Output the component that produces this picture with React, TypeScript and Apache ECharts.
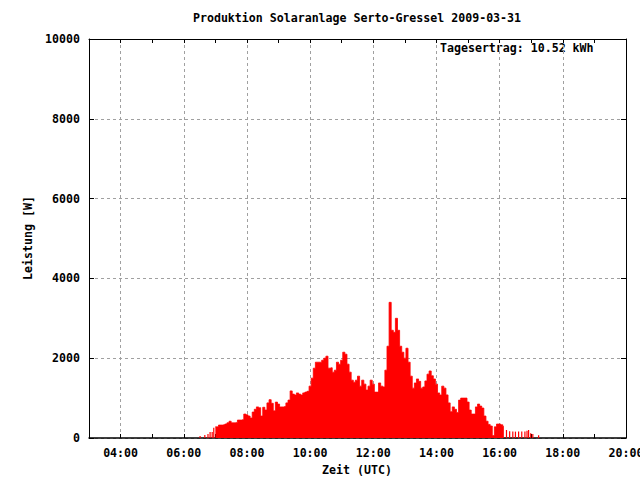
import React, { useEffect, useRef } from "react";
import * as echarts from "echarts";

const titleText = "Produktion Solaranlage Serto-Gressel 2009-03-31";
const xAxisName = "Zeit (UTC)";
const yAxisName = "Leistung [W]";
const noteText = "Tagesertrag: 10.52 kWh";

// main (dense) production samples, every 4 minutes
const mainTimes = [
  "07:00","07:04","07:08","07:12","07:16","07:20","07:24","07:28","07:32","07:36","07:40","07:44","07:48","07:52","07:56",
  "08:00","08:04","08:08","08:12","08:16","08:20","08:24","08:28","08:32","08:36","08:40","08:44","08:48","08:52","08:56",
  "09:00","09:04","09:08","09:12","09:16","09:20","09:24","09:28","09:32","09:36","09:40","09:44","09:48","09:52","09:56",
  "10:00","10:04","10:08","10:12","10:16","10:20","10:24","10:28","10:32","10:36","10:40","10:44","10:48","10:52","10:56",
  "11:00","11:04","11:08","11:12","11:16","11:20","11:24","11:28","11:32","11:36","11:40","11:44","11:48","11:52","11:56",
  "12:00","12:04","12:08","12:12","12:16","12:20","12:24","12:28","12:32","12:36","12:40","12:44","12:48","12:52","12:56",
  "13:00","13:04","13:08","13:12","13:16","13:20","13:24","13:28","13:32","13:36","13:40","13:44","13:48","13:52","13:56",
  "14:00","14:04","14:08","14:12","14:16","14:20","14:24","14:28","14:32","14:36","14:40","14:44","14:48","14:52","14:56",
  "15:00","15:04","15:08","15:12","15:16","15:20","15:24","15:28","15:32","15:36","15:40","15:44","15:48","15:52","15:56",
  "16:00","16:04","16:08"
];
const mainValues = [
  280, 280, 325, 325, 330, 350, 380, 420, 380, 380, 390, 450, 450, 460, 600,
  580, 550, 500, 650, 720, 780, 760, 550, 770, 700, 880, 960, 870, 680, 900,
  850, 780, 780, 790, 880, 950, 1180, 1100, 1080, 1130, 1100, 1080, 1130, 1150, 1170,
  1300, 1500, 1750, 1900, 1900, 1900, 1950, 2000, 2050, 1750, 1760, 1650, 1700, 1900, 1850,
  1950, 2150, 2100, 1850, 1650, 1450, 1400, 1450, 1550, 1300, 1450, 1350, 1200, 1300, 1450,
  1350, 1150, 1150, 1380, 1300, 1280, 1700, 2300, 3400, 2700, 2650, 3000, 2700, 2300, 2150,
  2000, 2250, 1900, 1550, 1250, 1380, 1480, 1420, 1250, 1280, 1430, 1600, 1680, 1560, 1480,
  1350, 1130, 1080, 1300, 1250, 1080, 880, 660, 780, 720, 640, 950, 1000, 1000, 1000,
  900, 700, 600, 600, 780, 850, 800, 750, 550, 420, 340, 300, 60, 280, 350,
  350, 330, 290
];

// sparse single samples at dawn and dusk
const sparseTimes = [
  "06:31","06:40","06:46","06:50","06:54","06:57",
  "16:13","16:19","16:25","16:30","16:36","16:42","16:48","16:52","16:55","16:59","17:03","17:14"
];
const sparseValues = [
  50, 75, 100, 150, 150, 260,
  200, 170, 160, 160, 160, 160, 160, 180, 200, 120, 100, 70
];

const hourTicks = [4, 6, 8, 10, 12, 14, 16, 18, 20];
const yTicks = [0, 2000, 4000, 6000, 8000, 10000];

const toHours = (s: string) => {
  const [h, m] = s.split(":").map(Number);
  return h + m / 60;
};

const FONT = "DejaVu Sans Mono";

export default function App() {
  const ref = useRef<HTMLDivElement>(null);
  useEffect(() => {
    if (!ref.current) return;
    const chart = echarts.init(ref.current, null, { renderer: "svg" });
    const textStyle = { fontFamily: FONT, fontSize: 11.6, fontWeight: "bold" as const, color: "#000" };
    const gridLine = { color: "#a0a0a0", type: [3, 3] as number[], width: 1 };
    chart.setOption({
      animation: false,
      backgroundColor: "#fff",
      grid: { left: 89, right: 14, top: 39, bottom: 42, containLabel: false, outerBoundsMode: "none" },
      xAxis: [
        {
          type: "value", min: 3, max: 20, interval: 1, position: "bottom",
          axisLine: { show: true, onZero: false, lineStyle: { color: "#000", width: 1.5 } },
          axisTick: { show: true, inside: true, length: 4, lineStyle: { color: "#000" } },
          axisLabel: {
            ...textStyle, margin: 9, hideOverlap: false,
            formatter: (v: number) => {
              const h = Math.round(v);
              return hourTicks.includes(h) ? (h < 10 ? "0" + h : "" + h) + ":00" : "";
            },
          },
          splitLine: { show: true, lineStyle: { ...gridLine, color: ["rgba(0,0,0,0)", "#a0a0a0"] } },
        },
        {
          type: "value", min: 3, max: 20, interval: 1, position: "top",
          axisLine: { show: true, onZero: false, lineStyle: { color: "#000", width: 1 } },
          axisTick: { show: true, inside: true, length: 4, lineStyle: { color: "#000" } },
          axisLabel: { show: false },
          splitLine: { show: false },
        },
      ],
      yAxis: [
        {
          type: "value", min: yTicks[0], max: yTicks[yTicks.length - 1], interval: 2000, position: "left",
          axisLine: { show: true, lineStyle: { color: "#000", width: 1 } },
          axisTick: { show: true, inside: true, length: 5, lineStyle: { color: "#000" } },
          axisLabel: { ...textStyle, margin: 9, formatter: (v: number) => String(v) },
          splitLine: { show: true, lineStyle: gridLine },
        },
        {
          type: "value", min: yTicks[0], max: yTicks[yTicks.length - 1], interval: 2000, position: "right",
          axisLine: { show: true, lineStyle: { color: "#000", width: 1 } },
          axisTick: { show: true, inside: true, length: 5, lineStyle: { color: "#000" } },
          axisLabel: { show: false },
          splitLine: { show: false },
        },
      ],
      series: [
        {
          type: "line",
          xAxisIndex: 0, yAxisIndex: 0,
          step: "middle",
          symbol: "none",
          lineStyle: { color: "#ff0000", width: 0.8 },
          areaStyle: { color: "#ff0000", opacity: 1, origin: "start" },
          data: mainTimes.map((t, i) => [toHours(t), mainValues[i]]),
          z: 2,
        },
        {
          type: "bar",
          xAxisIndex: 0, yAxisIndex: 0,
          barWidth: 1.2,
          itemStyle: { color: "#ff0000" },
          data: sparseTimes.map((t, i) => [toHours(t), sparseValues[i]]),
          z: 2,
        },
      ],
      graphic: [
        { type: "text", x: 357, y: 18, style: { text: titleText, font: `bold 11.6px "${FONT}"`, fill: "#000", align: "center", verticalAlign: "middle" } },
        { type: "text", x: 357, y: 470, style: { text: xAxisName, font: `bold 11.6px "${FONT}"`, fill: "#000", align: "center", verticalAlign: "middle" } },
        { type: "text", x: 28, y: 238, rotation: Math.PI / 2, style: { text: yAxisName, font: `bold 11.6px "${FONT}"`, fill: "#000", align: "center", verticalAlign: "middle" } },
        { type: "text", x: 440, y: 48, style: { text: noteText, font: `bold 11.6px "${FONT}"`, fill: "#000", align: "left", verticalAlign: "middle" } },
      ],
    });
    return () => chart.dispose();
  }, []);
  return <div ref={ref} style={{ position: "fixed", left: 0, top: 0, width: 640, height: 480, background: "#fff" }} />;
}
